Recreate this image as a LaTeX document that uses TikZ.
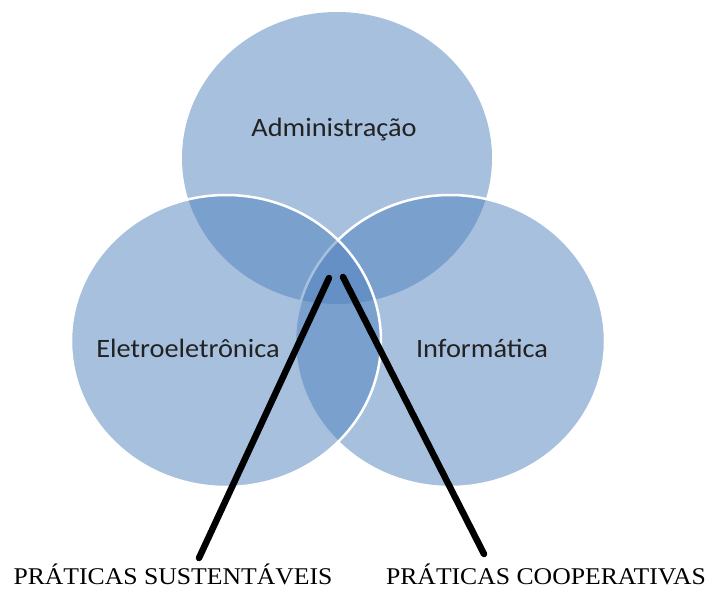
\documentclass[tikz,border=0pt]{standalone}
\usepackage{fontspec}
\setmainfont{Liberation Serif}
\newfontfamily\calfont{Carlito}
\definecolor{vennblue}{HTML}{4F81BD}
\definecolor{labelgray}{HTML}{222222}
\begin{document}
\begin{tikzpicture}[x=1pt,y=-1pt,
  venn/.style={fill=vennblue, fill opacity=0.5},
  vennedge/.style={venn, draw=white, line width=2.5pt},
  setlabel/.style={font=\calfont\fontsize{26.5}{30}\selectfont, text=labelgray, inner sep=0pt, anchor=base, xscale=1.07},
  praticas/.style={font=\fontsize{24}{28}\selectfont, text=black, inner sep=0pt, anchor=base, xscale=1.07},
  pointer/.style={draw=black, line width=6.5pt, line cap=round}]
\useasboundingbox (0,0) rectangle (713,590);
% circles
\path[venn] (337,158) ellipse [x radius=155, y radius=146];
\path[vennedge] (450,341) ellipse [x radius=155, y radius=146];
\path[vennedge] (226,341) ellipse [x radius=155, y radius=146];
% circle labels
\node[setlabel] (adm) at (334,136) {Administração};
\node[setlabel] (ele) at (188,357) {Eletroeletrônica};
\node[setlabel] (inf) at (482,357) {Informática};
% bottom labels
\node[praticas] (sust) at (173,584) {PRÁTICAS SUSTENTÁVEIS};
\node[praticas] (coop) at (546,584) {PRÁTICAS COOPERATIVAS};
% pointer ends
\coordinate (centerL) at (329,278);
\coordinate (centerR) at (343,277);
\coordinate (sustEnd) at (199,558);
\coordinate (coopEnd) at (484,554);
\draw[pointer] (centerL) -- (sustEnd);
\draw[pointer] (centerR) -- (coopEnd);
\end{tikzpicture}
\end{document}
